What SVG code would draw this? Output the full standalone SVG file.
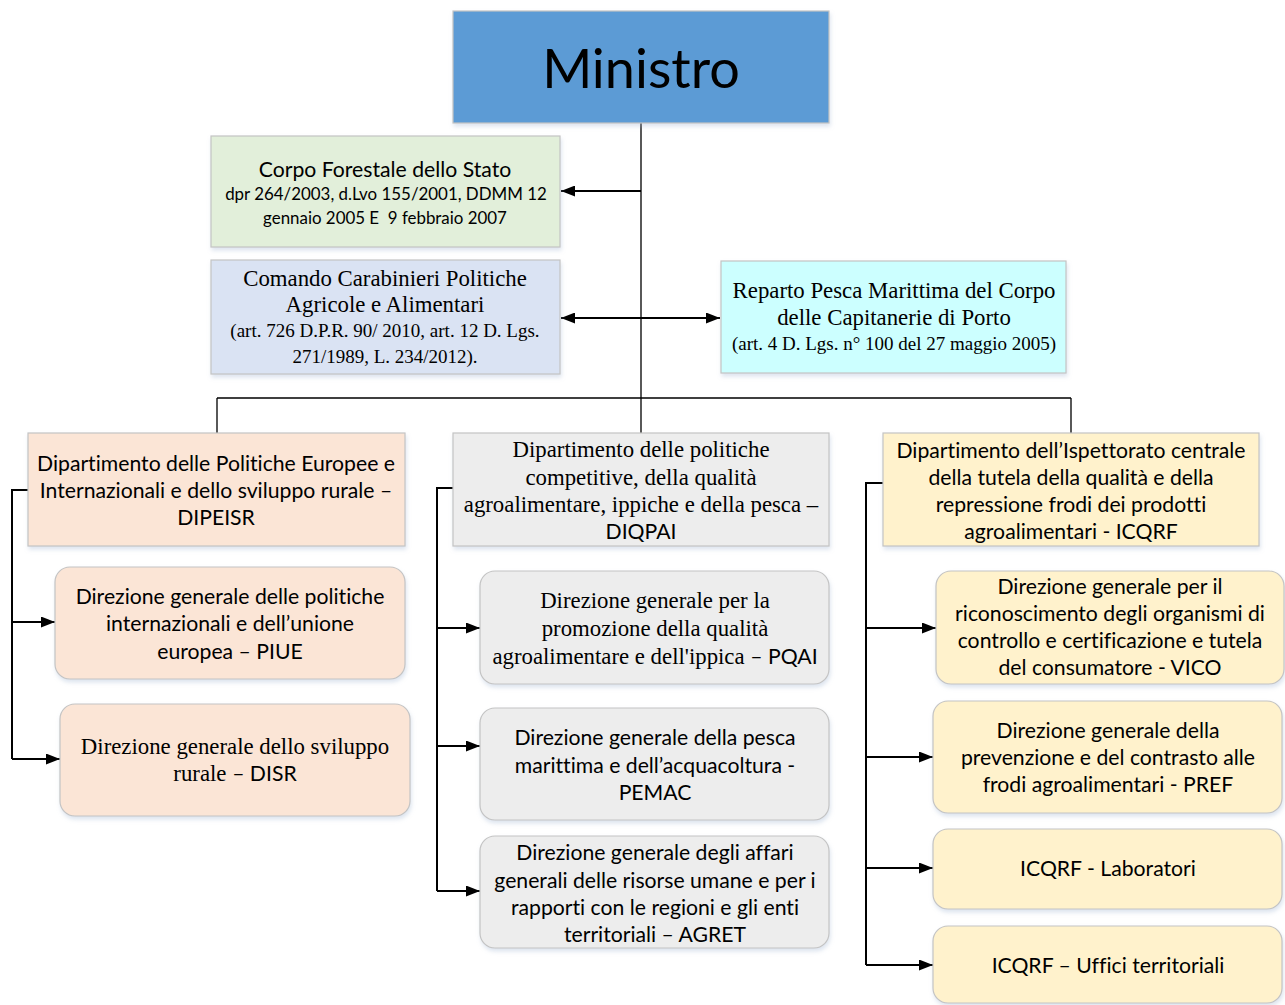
<svg xmlns="http://www.w3.org/2000/svg" width="1285" height="1005" viewBox="0 0 1285 1005">
<defs>
<filter id="sh" x="-5%" y="-5%" width="110%" height="120%">
<feDropShadow dx="1" dy="3" stdDeviation="2" flood-color="#9db3d0" flood-opacity="0.35"/>
</filter>
<marker id="ah" viewBox="0 0 14 11" refX="14" refY="5.5" markerWidth="14" markerHeight="11" markerUnits="userSpaceOnUse" orient="auto-start-reverse">
<path d="M0,0 L14,5.5 L0,11 Z" fill="#000"/>
</marker>
<style>
.b{stroke:#c4c4c4;stroke-width:1.2;filter:url(#sh)}
.c{font-family:"Lato","Open Sans","Liberation Sans",sans-serif;fill:#000;text-anchor:middle;dominant-baseline:central;font-size:21.2px;font-variant-ligatures:none}
.t{font-family:"Liberation Serif","Times New Roman",serif;fill:#000;text-anchor:middle;dominant-baseline:central;font-size:22.8px}
.s{font-size:19px}
.ln{fill:none;stroke:#000;stroke-width:2}
.ln1{fill:none;stroke:#000;stroke-width:1.3}
.cs{font-family:"Lato","Open Sans",sans-serif;font-size:21.2px}
</style>
</defs>
<rect width="1285" height="1005" fill="#fff"/>
<g id="connectors">
<path class="ln1" d="M641,123 V398 M217,398 H1071 M217,398 V433 M641,398 V433 M1071,398 V433"/>
<path class="ln" d="M641,191 H561" marker-end="url(#ah)"/>
<path class="ln" d="M561,318 H720" marker-start="url(#ah)" marker-end="url(#ah)"/>
<path class="ln" d="M28,490 H12 V759"/>
<path class="ln" d="M12,622 H55" marker-end="url(#ah)"/>
<path class="ln" d="M12,759 H60" marker-end="url(#ah)"/>
<path class="ln" d="M453,488 H437 V891"/>
<path class="ln" d="M437,628 H480" marker-end="url(#ah)"/>
<path class="ln" d="M437,746 H480" marker-end="url(#ah)"/>
<path class="ln" d="M437,891 H480" marker-end="url(#ah)"/>
<path class="ln" d="M883,483 H866 V965"/>
<path class="ln" d="M866,628 H936" marker-end="url(#ah)"/>
<path class="ln" d="M866,757 H933" marker-end="url(#ah)"/>
<path class="ln" d="M866,868 H933" marker-end="url(#ah)"/>
<path class="ln" d="M866,965 H933" marker-end="url(#ah)"/>
</g>
<g id="ministro">
<rect class="b" x="453" y="11" width="376" height="112" fill="#5b9bd5"/>
<text class="c" x="641" y="67" style="font-size:54px">Ministro</text>
</g>
<g id="corpo-forestale">
<rect class="b" x="211" y="136" width="349" height="111" fill="#e2efda"/>
<text class="c" x="385" y="169">Corpo Forestale dello Stato</text>
<text class="c" x="386" y="193" style="font-size:16.9px">dpr 264/2003, d.Lvo 155/2001, DDMM 12</text>
<text class="c" x="385" y="217" style="font-size:16.9px">gennaio 2005 E&#160; 9 febbraio 2007</text>
</g>
<g id="carabinieri">
<rect class="b" x="211" y="260" width="349" height="114" fill="#dae3f3"/>
<text class="t" x="385" y="278">Comando Carabinieri Politiche</text>
<text class="t" x="385" y="304">Agricole e Alimentari</text>
<text class="t s" x="385" y="330">(art. 726 D.P.R. 90/ 2010, art. 12 D. Lgs.</text>
<text class="t s" x="385" y="356">271/1989, L. 234/2012).</text>
</g>
<g id="reparto-pesca">
<rect class="b" x="721" y="261" width="345" height="112" fill="#ccffff"/>
<text class="t" x="894" y="290">Reparto Pesca Marittima del Corpo</text>
<text class="t" x="894" y="317">delle Capitanerie di Porto</text>
<text class="t s" x="894" y="343">(art. 4 D. Lgs. n° 100 del 27 maggio 2005)</text>
</g>
<g id="dipeisr">
<rect class="b" x="28" y="433" width="377" height="113" fill="#fbe5d6"/>
<text class="c" x="216" y="463">Dipartimento delle Politiche Europee e</text>
<text class="c" x="216" y="490">Internazionali e dello sviluppo rurale –</text>
<text class="c" x="216" y="517">DIPEISR</text>
</g>
<g id="piue">
<rect class="b" x="55" y="567" width="350" height="112" rx="15" fill="#fbe5d6"/>
<text class="c" x="230" y="596">Direzione generale delle politiche</text>
<text class="c" x="230" y="623">internazionali e dell’unione</text>
<text class="c" x="230" y="651">europea – PIUE</text>
</g>
<g id="disr">
<rect class="b" x="60" y="704" width="350" height="112" rx="15" fill="#fbe5d6"/>
<text class="t" x="235" y="746">Direzione generale dello sviluppo</text>
<text class="t" x="235" y="773">rurale <tspan class="cs">– DISR</tspan></text>
</g>
<g id="diqpai">
<rect class="b" x="453" y="433" width="376" height="113" fill="#ededed"/>
<text class="t" x="641" y="449">Dipartimento delle politiche</text>
<text class="t" x="641" y="477">competitive, della qualità</text>
<text class="t" x="641" y="504">agroalimentare, ippiche e della pesca –</text>
<text class="c" x="641" y="531">DIQPAI</text>
</g>
<g id="pqai">
<rect class="b" x="480" y="571" width="349" height="113" rx="15" fill="#ededed"/>
<text class="t" x="655" y="600">Direzione generale per la</text>
<text class="t" x="655" y="628">promozione della qualità</text>
<text class="t" x="655" y="656">agroalimentare e dell'ippica <tspan class="cs">– PQAI</tspan></text>
</g>
<g id="pemac">
<rect class="b" x="480" y="708" width="349" height="112" rx="15" fill="#ededed"/>
<text class="c" x="655" y="737">Direzione generale della pesca</text>
<text class="c" x="655" y="765">marittima e dell’acquacoltura -</text>
<text class="c" x="655" y="792">PEMAC</text>
</g>
<g id="agret">
<rect class="b" x="480" y="836" width="349" height="112" rx="15" fill="#ededed"/>
<text class="c" x="655" y="852">Direzione generale degli affari</text>
<text class="c" x="655" y="880">generali delle risorse umane e per i</text>
<text class="c" x="655" y="907">rapporti con le regioni e gli enti</text>
<text class="c" x="655" y="934">territoriali – AGRET</text>
</g>
<g id="icqrf">
<rect class="b" x="883" y="433" width="376" height="113" fill="#fff2cc"/>
<text class="c" x="1071" y="450">Dipartimento dell’Ispettorato centrale</text>
<text class="c" x="1071" y="477">della tutela della qualità e della</text>
<text class="c" x="1071" y="504">repressione frodi dei prodotti</text>
<text class="c" x="1071" y="531">agroalimentari - ICQRF</text>
</g>
<g id="vico">
<rect class="b" x="936" y="571" width="348" height="113" rx="15" fill="#fff2cc"/>
<text class="c" x="1110" y="586">Direzione generale per il</text>
<text class="c" x="1110" y="613">riconoscimento degli organismi di</text>
<text class="c" x="1110" y="640">controllo e certificazione e tutela</text>
<text class="c" x="1110" y="667">del consumatore - VICO</text>
</g>
<g id="pref">
<rect class="b" x="933" y="701" width="349" height="112" rx="15" fill="#fff2cc"/>
<text class="c" x="1108" y="730">Direzione generale della</text>
<text class="c" x="1108" y="757">prevenzione e del contrasto alle</text>
<text class="c" x="1108" y="784">frodi agroalimentari - PREF</text>
</g>
<g id="laboratori">
<rect class="b" x="933" y="829" width="349" height="80" rx="15" fill="#fff2cc"/>
<text class="c" x="1108" y="868">ICQRF - Laboratori</text>
</g>
<g id="uffici">
<rect class="b" x="933" y="926" width="349" height="77" rx="15" fill="#fff2cc"/>
<text class="c" x="1108" y="965">ICQRF – Uffici territoriali</text>
</g>
</svg>
